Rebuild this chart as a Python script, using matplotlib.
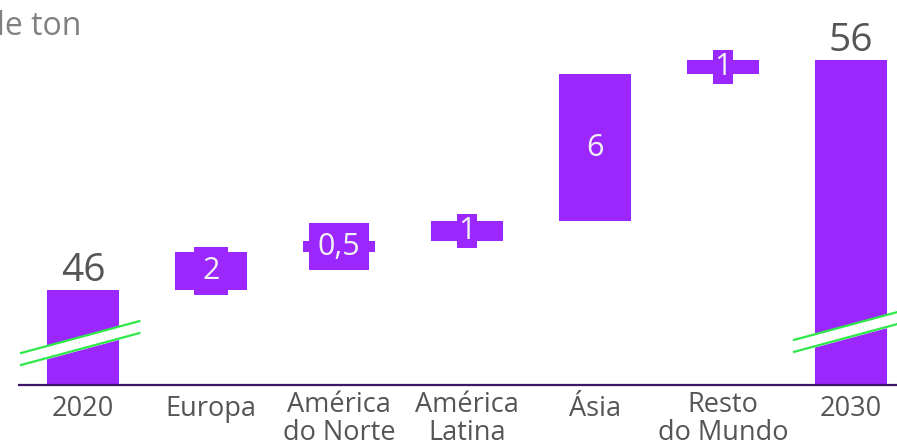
# Waterfall chart: consumption growth 2020 -> 2030 by region
import matplotlib
matplotlib.use("Agg")
import matplotlib.pyplot as plt
import numpy as np

#---------------------------------------------------------------------------------------------------------------------------#
# data (millions of tons)

categories = ["2020", "Europa", "América\ndo Norte", "América\nLatina", "Ásia", "Resto\ndo Mundo", "2030"]
start_value = 46.0
end_value = 56.0
deltas = [1.65, 0.48, 0.87, 6.39, 0.61]
delta_labels = ["2", "0,5", "1", "6", "1"]
total_labels = ["46", "56"]
unit_text = "Milhões de ton"

#---------------------------------------------------------------------------------------------------------------------------#

plt.rcParams["font.family"] = ["Open Sans", "DejaVu Sans"]

bar_color = "#9c27fc"
text_gray = "#555555"
break_green = "#2ee84a"

fig = plt.figure(figsize=(8.97, 4.46), dpi=100)
ax = fig.add_axes([19 / 897, 61 / 446, 878 / 897, 385 / 446])

x = np.arange(len(categories))
width = 0.5625

# totals (axis is broken, so bars get clipped at the bottom)
ax.bar([x[0], x[-1]], [start_value, end_value], width=width, color=bar_color, zorder=2)

# deltas
bottoms = start_value + np.concatenate([[0], np.cumsum(deltas)[:-1]])
ax.bar(x[1:-1], deltas, bottom=bottoms, width=width, color=bar_color, zorder=2)

y_bottom = start_value - 95 / 23
ax.set_xlim(-0.5, 6.359)
ax.set_ylim(y_bottom, y_bottom + 385 / 23)

for xi, lab, val in zip([x[0], x[-1]], total_labels, [start_value, end_value]):
    ax.text(xi, val, lab, ha="center", va="bottom", fontsize=28, color=text_gray, zorder=4)

# label boxes: the single "1" labels sit in a tighter box in the source
label_pads = [0.28, 0.27, 0.05, 0.28, 0.05]
for xi, lab, b, d, pad in zip(x[1:-1], delta_labels, bottoms, deltas, label_pads):
    ax.text(xi, b + d / 2, lab, ha="center", va="center", fontsize=22, color="#f2f2f2", zorder=4,
            bbox=dict(boxstyle=f"square,pad={pad}", fc=bar_color, ec="none"))

# axis break marks on the total bars
slope = 1.5
gap = 0.52
for xc, x0, x1, y0 in [(x[0], -0.484, 0.44, 43.26), (x[-1], -0.445, 0.37, 43.83)]:
    xs = np.array([xc + x0, xc + x1])
    upper = y0 + slope * (xs - xs[0])
    lower = upper - gap
    ax.fill_between(xs, lower, upper, color="white", zorder=3, clip_on=False)
    ax.plot(xs, upper, color=break_green, lw=1.6, zorder=3, clip_on=False)
    ax.plot(xs, lower, color=break_green, lw=1.6, zorder=3, clip_on=False)

for side in ["top", "right", "left"]:
    ax.spines[side].set_visible(False)
ax.spines["bottom"].set_color("#3d1466")
ax.spines["bottom"].set_linewidth(1.6)
ax.spines["bottom"].set_zorder(5)

ax.set_yticks([])
ax.set_xticks(x)
ax.set_xticklabels([])
ax.tick_params(axis="x", length=0)

# category labels drawn by hand so the two-line ones can be set tight
for xi, cat in zip(x, categories):
    two_lines = "\n" in cat
    ax.annotate(cat, xy=(xi, 0), xycoords=ax.get_xaxis_transform(),
                xytext=(0, -4.5 if two_lines else -7.5), textcoords="offset points",
                ha="center", va="top", fontsize=19.5, color=text_gray, linespacing=1.0)

# unit subtitle, cut at the left edge like the source
fig.text(81 / 897, 1 - 35 / 446, unit_text, ha="right", va="baseline", fontsize=23, color="#808080")

fig.savefig("out.png", dpi=100)
